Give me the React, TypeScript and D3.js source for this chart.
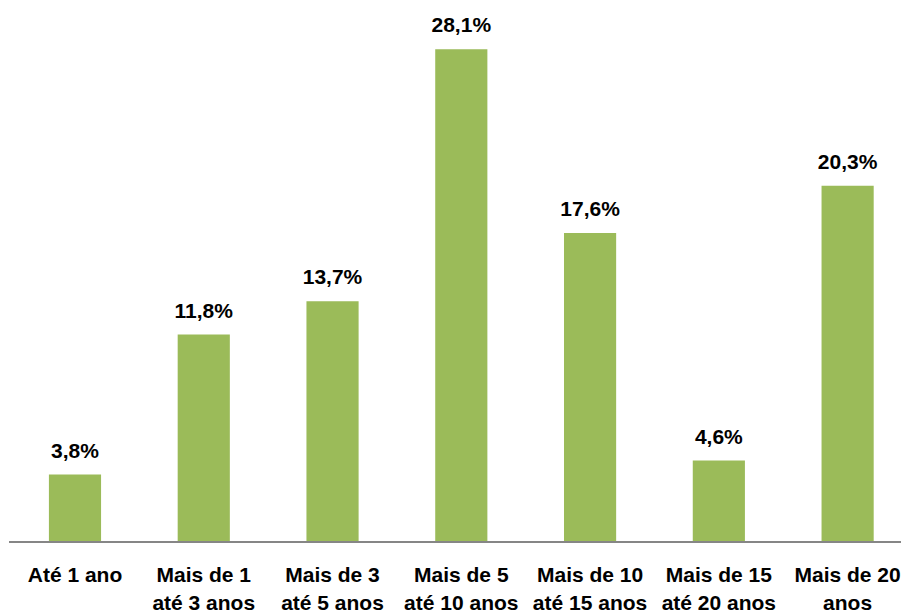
import React from "react";
import * as d3 from "d3";

const categories: string[][] = [
  ["Até 1 ano"],
  ["Mais de 1", "até 3 anos"],
  ["Mais de 3", "até 5 anos"],
  ["Mais de 5", "até 10 anos"],
  ["Mais de 10", "até 15 anos"],
  ["Mais de 15", "até 20 anos"],
  ["Mais de 20", "anos"],
];
const values: number[] = [3.8, 11.8, 13.7, 28.1, 17.6, 4.6, 20.3];
const valueLabels: string[] = ["3,8%", "11,8%", "13,7%", "28,1%", "17,6%", "4,6%", "20,3%"];

const W = 901;
const H = 613;
const axisY = 541;

export default function App() {
  const x = d3
    .scaleBand<number>()
    .domain(values.map((_, i) => i))
    .range([10.6, 912])
    .paddingInner(0.595)
    .paddingOuter(0.2975);
  const y = d3.scaleLinear().domain([0, 30]).range([axisY, axisY - 525]);
  const font = "'Liberation Sans', Arial, sans-serif";
  return (
    <svg
      width={W}
      height={H}
      style={{ position: "absolute", left: 0, top: 0, background: "#fff" }}
    >
      {values.map((v, i) => (
        <rect
          key={i}
          x={x(i)}
          y={y(v)}
          width={x.bandwidth()}
          height={axisY - y(v)}
          fill="#9BBB59"
        />
      ))}
      <line x1={9} x2={W} y1={axisY + 1} y2={axisY + 1} stroke="#868686" strokeWidth={2} />
      {values.map((v, i) => (
        <text
          key={i}
          x={(x(i) as number) + x.bandwidth() / 2}
          y={y(v) - 17}
          textAnchor="middle"
          fontFamily={font}
          fontWeight="bold"
          fontSize={21}
          fill="#000"
        >
          {valueLabels[i]}
        </text>
      ))}
      {categories.map((lines, i) => (
        <text
          key={i}
          x={(x(i) as number) + x.bandwidth() / 2}
          y={582}
          textAnchor="middle"
          fontFamily={font}
          fontWeight="bold"
          fontSize={21}
          fill="#000"
        >
          {lines.map((l, j) => (
            <tspan key={j} x={(x(i) as number) + x.bandwidth() / 2} dy={j === 0 ? 0 : 28}>
              {l}
            </tspan>
          ))}
        </text>
      ))}
    </svg>
  );
}
